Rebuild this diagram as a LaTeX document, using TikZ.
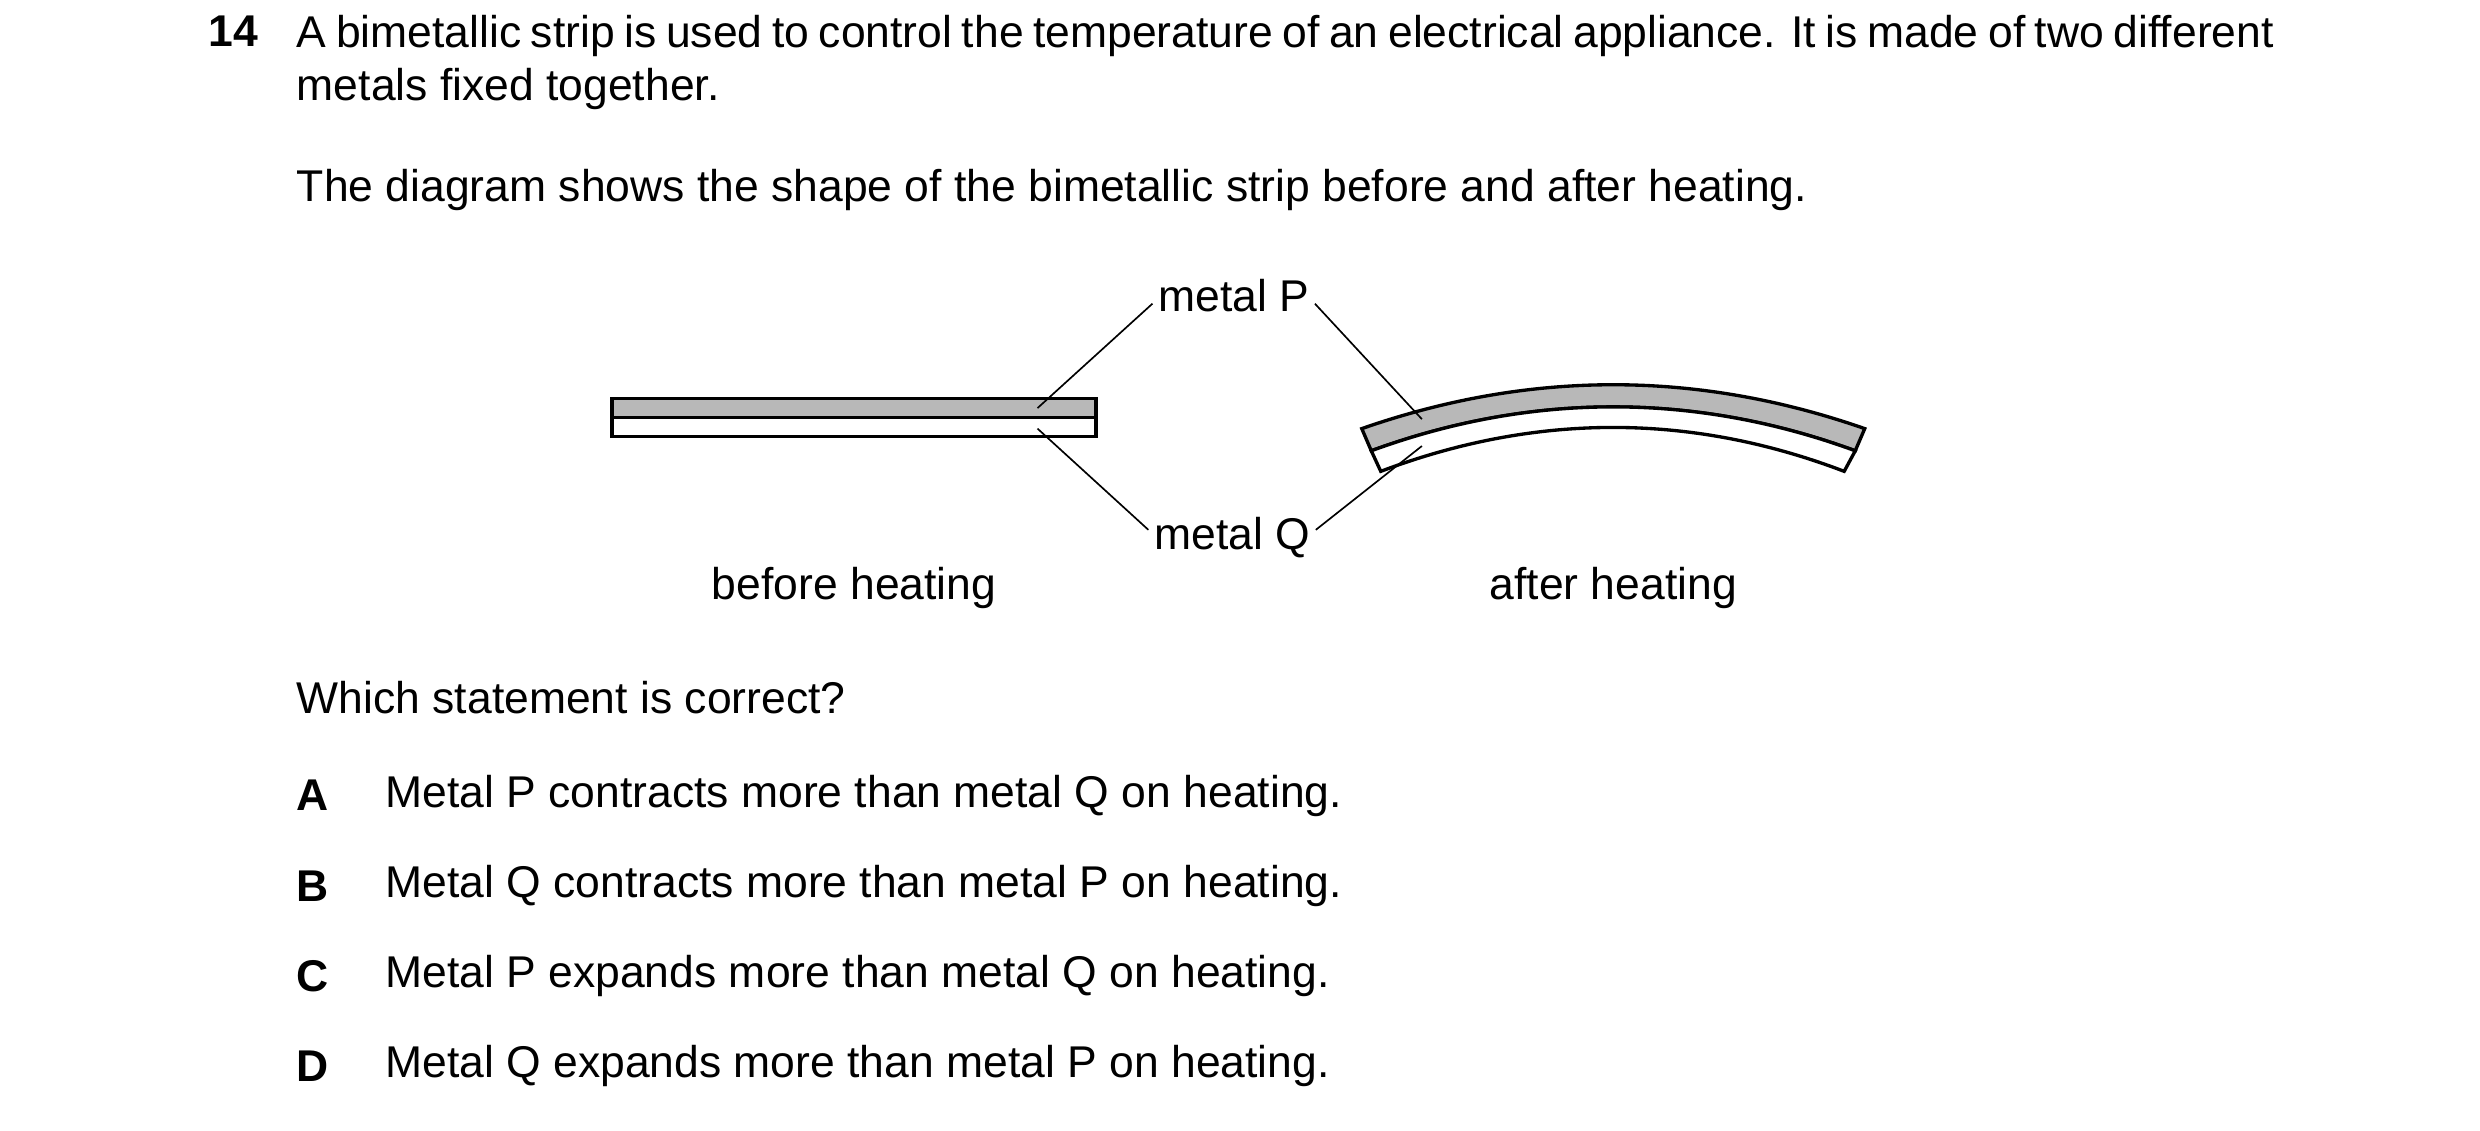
\documentclass[tikz,border=0pt]{standalone}
\usepackage{fontspec}
\setmainfont{Liberation Sans}
\usetikzlibrary{positioning}
\begin{document}
\begin{tikzpicture}[x=0.1mm,y=-0.1mm,
    txt/.style={font=\fontsize{8pt}{9.6pt}\selectfont,inner sep=0pt},
    opt/.style={txt,anchor=west},
    strip/.style={line width=0.6pt},
    leader/.style={line width=0.3pt}]
    \useasboundingbox (0,0) rectangle (1568,715);

    % question text
    \node[txt,font=\fontsize{8pt}{9.6pt}\selectfont\bfseries,anchor=west] (num) at (131,20) {14};
    \node[txt,anchor=north west,text width=125mm,align=justify] (intro) at (187,9)
        {A bimetallic strip is used to control the temperature of an electrical appliance. It is made of two different metals fixed together.};
    \node[opt] (shows) at (187,120) {The diagram shows the shape of the bimetallic strip before and after heating.};

    % flat strip
    \draw[strip,fill=black!28] (387,252) rectangle (693,264);
    \draw[strip,fill=white] (387,264) rectangle (693,276);

    % bent strip
    \coordinate (o1) at (861,271); \coordinate (o2) at (1179,271);
    \coordinate (m1) at (867,285); \coordinate (m2) at (1173,285);
    \coordinate (i1) at (873,298); \coordinate (i2) at (1166,298);
    \draw[strip,fill=black!28] (o1) .. controls (967,234) and (1073,234) .. (o2)
        -- (m2) .. controls (1072,248) and (968,248) .. (m1) -- cycle;
    \draw[strip,fill=white] (m1) .. controls (968,248) and (1072,248) .. (m2)
        -- (i2) .. controls (1069,261) and (971,261) .. (i1) -- cycle;

    % labels
    \node[txt] (P) at (780,187) {metal P};
    \node[txt] (Q) at (779,340) {metal Q};
    \coordinate (pa) at (656,258); \coordinate (pb) at (899,265);
    \coordinate (qa) at (656,271); \coordinate (qb) at (899,282);
    \draw[leader] (P.west) ++(-3,5) -- (pa);
    \draw[leader] (P.east) ++(3,5) -- (pb);
    \draw[leader] (Q.west) ++(-3,-5) -- (qa);
    \draw[leader] (Q.east) ++(3,-5) -- (qb);
    \node[txt] (before) at (540,372) {before heating};
    \node[txt] (after) at (1020,372) {after heating};

    % options
    \node[opt] (which) at (187,441) {Which statement is correct?};
    \foreach \l/\t/\y in {A/Metal P contracts more than metal Q on heating./503,
                          B/Metal Q contracts more than metal P on heating./560,
                          C/Metal P expands more than metal Q on heating./617,
                          D/Metal Q expands more than metal P on heating./674} {
        \node[opt,font=\fontsize{8pt}{9.6pt}\selectfont\bfseries] (l\l) at (187,\y) {\l};
        \node[opt] (t\l) at (243,\y) {\t};
    }
\end{tikzpicture}
\end{document}
